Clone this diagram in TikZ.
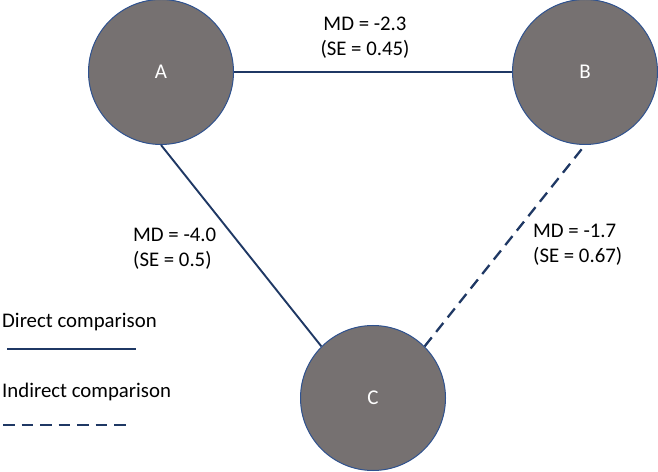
\documentclass[tikz,border=0pt]{standalone}
\usepackage{fontspec}
\setmainfont{Carlito}
\definecolor{nodegray}{RGB}{118,113,113}
\definecolor{rimblue}{RGB}{47,82,143}
\definecolor{linknavy}{RGB}{31,56,100}
\begin{document}
\begin{tikzpicture}[x=1pt,y=1pt,
        treat/.style={circle,fill=nodegray,draw=rimblue,line width=1pt,
            minimum size=145pt,inner sep=0pt,text=white,
            font=\fontsize{21}{24}\selectfont},
        direct/.style={draw=linknavy,line width=1.9pt},
        indirect/.style={direct,line width=2.3pt,dash pattern=on 11.5pt off 7pt},
        lbl/.style={align=left,inner sep=0pt,
            font=\fontsize{20.8}{25}\selectfont}]
    \useasboundingbox (0,0) rectangle (658,471);
    \node[treat] (a) at (161,399) {A};
    \node[treat] (b) at (585,399) {B};
    \node[treat] (c) at (373,73) {C};
    \draw[direct] (a) -- (b);
    \draw[direct] (a.south) -- (c.north west);
    \draw[indirect] (c.north east) -- (b.south);
    \node[lbl,align=center] (ab) at (365,433) {MD = -2.3\\(SE = 0.45)};
    \node[lbl,anchor=west] (ac) at (133,222) {MD = -4.0\\(SE = 0.5)};
    \node[lbl,anchor=west] (bc) at (533,226) {MD = -1.7\\(SE = 0.67)};
    % legend
    \node[lbl,anchor=west] (dleg) at (2,149) {Direct comparison};
    \coordinate (d1) at (7,122);
    \coordinate (d2) at (136,122);
    \draw[direct,line width=2.5pt] (d1) -- (d2);
    \node[lbl,anchor=west] (ileg) at (2,79) {Indirect comparison};
    \coordinate (i1) at (3,46);
    \coordinate (i2) at (126,46);
    \draw[indirect,line width=2.5pt] (i1) -- (i2);
\end{tikzpicture}
\end{document}
